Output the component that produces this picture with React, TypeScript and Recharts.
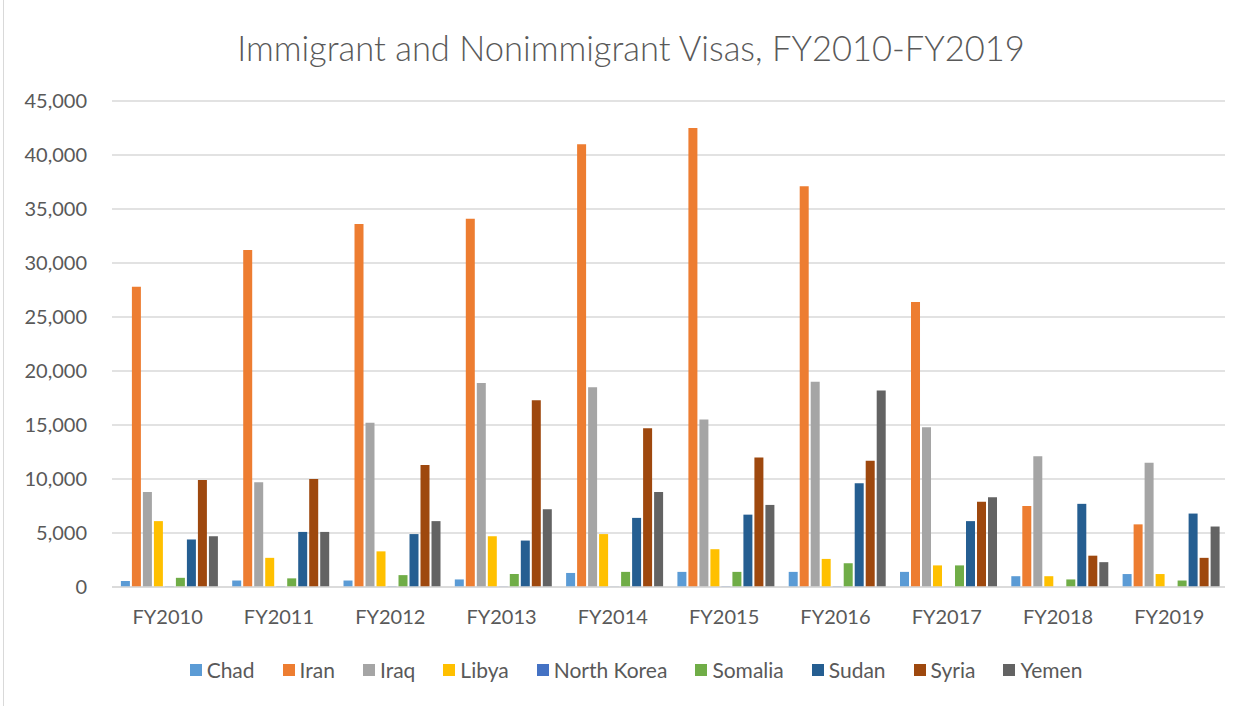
import { BarChart, Bar, XAxis, YAxis, CartesianGrid } from "recharts";

const years = ["FY2010", "FY2011", "FY2012", "FY2013", "FY2014", "FY2015", "FY2016", "FY2017", "FY2018", "FY2019"];

const chad = [550, 600, 600, 700, 1300, 1400, 1400, 1400, 1000, 1200];
const iran = [27800, 31200, 33600, 34100, 41000, 42500, 37100, 26400, 7500, 5800];
const iraq = [8800, 9700, 15200, 18900, 18500, 15500, 19000, 14800, 12100, 11500];
const libya = [6100, 2700, 3300, 4700, 4900, 3500, 2600, 2000, 1000, 1200];
const northKorea = [40, 50, 50, 30, 20, 50, 50, 20, 0, 0];
const somalia = [850, 800, 1100, 1200, 1400, 1400, 2200, 2000, 700, 600];
const sudan = [4400, 5100, 4900, 4300, 6400, 6700, 9600, 6100, 7700, 6800];
const syria = [9900, 10000, 11300, 17300, 14700, 12000, 11700, 7900, 2900, 2700];
const yemen = [4700, 5100, 6100, 7200, 8800, 7600, 18200, 8300, 2300, 5600];

const yTicks = [0, 5000, 10000, 15000, 20000, 25000, 30000, 35000, 40000, 45000];

const series = [
  { key: "Chad", values: chad, color: "#5B9BD5" },
  { key: "Iran", values: iran, color: "#ED7D31" },
  { key: "Iraq", values: iraq, color: "#A5A5A5" },
  { key: "Libya", values: libya, color: "#FFC000" },
  { key: "North Korea", values: northKorea, color: "#4472C4" },
  { key: "Somalia", values: somalia, color: "#70AD47" },
  { key: "Sudan", values: sudan, color: "#255E91" },
  { key: "Syria", values: syria, color: "#9E480E" },
  { key: "Yemen", values: yemen, color: "#636363" },
];

const data = years.map((year, i) => {
  const row: Record<string, string | number> = { year };
  series.forEach((s) => {
    row[s.key] = s.values[i];
  });
  return row;
});

const FONT = "Lato, 'Liberation Sans', sans-serif";
const TEXT = "#595959";

export default function App() {
  return (
    <div
      style={{
        position: "absolute",
        left: 0,
        top: 0,
        width: 1253,
        height: 706,
        background: "#fff",
        fontFamily: FONT,
      }}
    >
      <div
        style={{
          position: "absolute",
          left: 3,
          top: 0,
          width: 1249,
          height: 706,
          borderLeft: "1px solid #d9d9d9",
        }}
      />
      <div
        style={{
          position: "absolute",
          top: 27,
          left: 0,
          width: 1262,
          textAlign: "center",
          fontSize: 34.5,
          fontWeight: 300,
          color: TEXT,
        }}
      >
        Immigrant and Nonimmigrant Visas, FY2010-FY2019
      </div>
      <BarChart
        width={1253}
        height={706}
        data={data}
        margin={{ top: 101, right: 28, bottom: 89, left: 0 }}
        barCategoryGap="8%"
        barGap={2}
      >
        <CartesianGrid vertical={false} stroke="#d9d9d9" strokeWidth={1.5} />
        <XAxis
          dataKey="year"
          height={30}
          tickLine={false}
          axisLine={{ stroke: "#d9d9d9", strokeWidth: 1.5 }}
          tick={{ fill: TEXT, fontSize: 20, fontFamily: FONT }}
          tickMargin={17}
        />
        <YAxis
          width={112}
          domain={[0, 45000]}
          ticks={yTicks}
          interval={0}
          axisLine={false}
          tickLine={false}
          tickMargin={19}
          tick={{ fill: TEXT, fontSize: 20, fontFamily: FONT }}
          tickFormatter={(v: number) => v.toLocaleString("en-US")}
        />
        {series.map((s) => (
          <Bar key={s.key} dataKey={s.key} fill={s.color} isAnimationActive={false} />
        ))}
      </BarChart>
      <div
        style={{
          position: "absolute",
          top: 657,
          left: 0,
          width: 1272,
          display: "flex",
          justifyContent: "center",
          gap: 28,
          fontSize: 21,
          color: TEXT,
        }}
      >
        {series.map((s) => (
          <div key={s.key} style={{ display: "flex", alignItems: "center", gap: 5 }}>
            <span style={{ width: 12, height: 12, background: s.color, display: "inline-block" }} />
            <span>{s.key}</span>
          </div>
        ))}
      </div>
    </div>
  );
}
